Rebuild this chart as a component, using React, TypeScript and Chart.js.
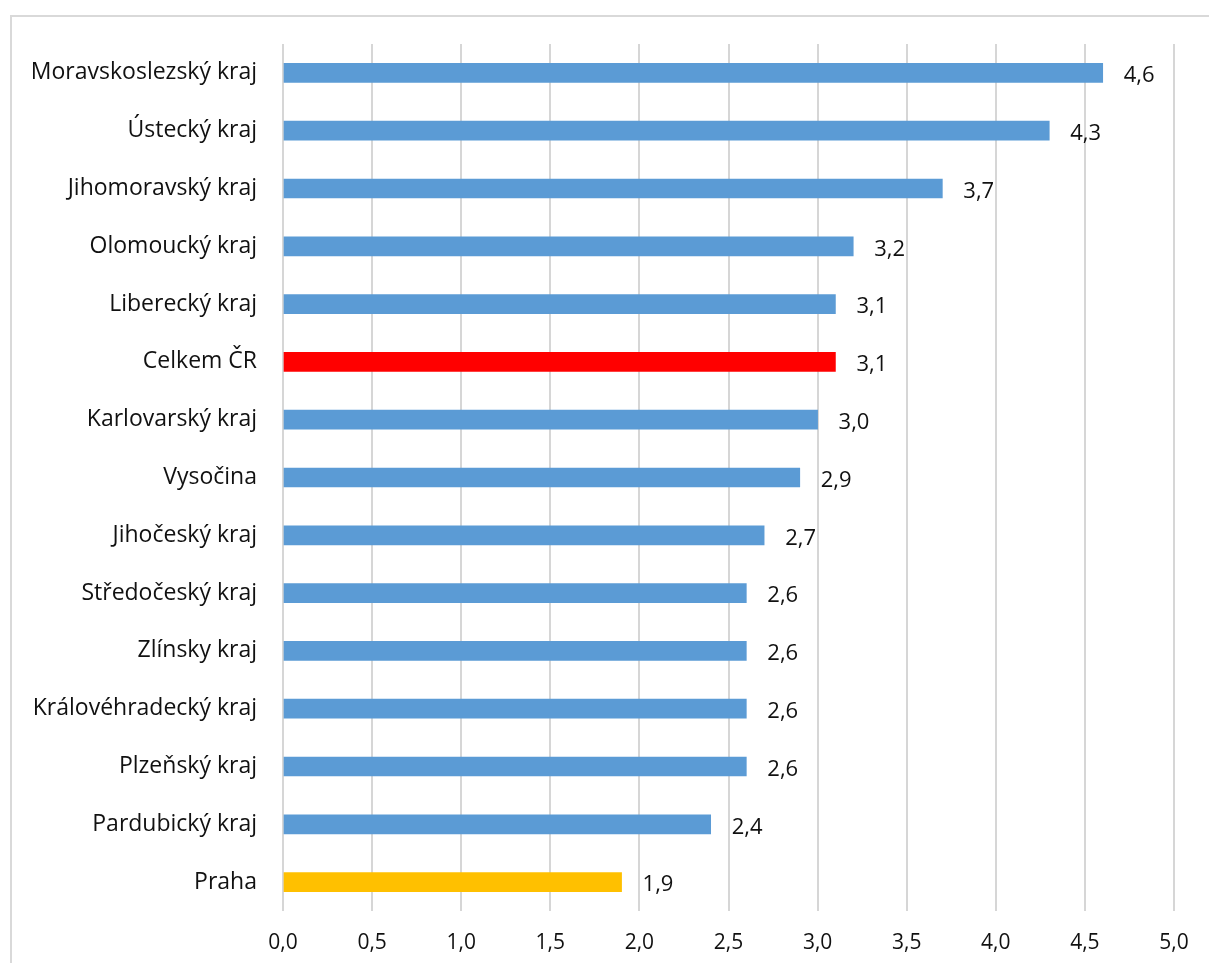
import React, { useEffect, useRef } from "react";
import { Chart, registerables } from "chart.js";

Chart.register(...registerables);

const categories = [
  "Moravskoslezský kraj",
  "Ústecký kraj",
  "Jihomoravský kraj",
  "Olomoucký kraj",
  "Liberecký kraj",
  "Celkem ČR",
  "Karlovarský kraj",
  "Vysočina",
  "Jihočeský kraj",
  "Středočeský kraj",
  "Zlínsky kraj",
  "Královéhradecký kraj",
  "Plzeňský kraj",
  "Pardubický kraj",
  "Praha",
];
const values = [4.6, 4.3, 3.7, 3.2, 3.1, 3.1, 3.0, 2.9, 2.7, 2.6, 2.6, 2.6, 2.6, 2.4, 1.9];
const barColors = [
  "#5b9bd5", "#5b9bd5", "#5b9bd5", "#5b9bd5", "#5b9bd5",
  "#ff0000",
  "#5b9bd5", "#5b9bd5", "#5b9bd5", "#5b9bd5", "#5b9bd5",
  "#5b9bd5", "#5b9bd5", "#5b9bd5",
  "#ffc000",
];
const xMin = 0;
const xMax = 5;
const xStep = 0.5;

const FONT = "'Open Sans', 'Noto Sans', sans-serif";
const fmt = (v: number) => v.toFixed(1).replace(".", ",");

const frame = {
  id: "frame",
  beforeDraw(chart: any) {
    const ctx = chart.ctx;
    ctx.save();
    ctx.fillStyle = "#ffffff";
    ctx.fillRect(0, 0, chart.width, chart.height);
    ctx.strokeStyle = "#d9d9d9";
    ctx.lineWidth = 2;
    ctx.beginPath();
    ctx.moveTo(11, chart.height + 5);
    ctx.lineTo(11, 16);
    ctx.lineTo(chart.width + 5, 16);
    ctx.stroke();
    ctx.restore();
  },
};

const valueLabels = {
  id: "valueLabels",
  afterDatasetsDraw(chart: any) {
    const ctx = chart.ctx;
    const meta = chart.getDatasetMeta(0);
    ctx.save();
    ctx.font = `22px ${FONT}`;
    ctx.fillStyle = "#111111";
    ctx.textAlign = "left";
    ctx.textBaseline = "middle";
    meta.data.forEach((bar: any, i: number) => {
      ctx.fillText(fmt(values[i]), bar.x + 21, bar.y + 3);
    });
    ctx.restore();
  },
};

export default function App() {
  const ref = useRef<HTMLCanvasElement | null>(null);
  useEffect(() => {
    if (!ref.current) return;
    const chart = new Chart(ref.current, {
      type: "bar",
      data: {
        labels: categories,
        datasets: [
          {
            data: values,
            backgroundColor: barColors,
            barThickness: 19,
            borderWidth: 0,
          },
        ],
      },
      options: {
        indexAxis: "y",
        animation: false,
        responsive: false,
        maintainAspectRatio: false,
        layout: { padding: { top: 44, right: 35, bottom: 0, left: 0 } },
        plugins: {
          legend: { display: false },
          tooltip: { enabled: false },
        },
        scales: {
          x: {
            min: xMin,
            max: xMax,
            ticks: {
              stepSize: xStep,
              callback: (v: any) => fmt(Number(v)),
              font: { family: FONT, size: 21 },
              color: "#111111",
              padding: 19,
              maxRotation: 0,
            },
            grid: { color: "#d6d6d6", lineWidth: 2, drawTicks: false },
            border: { display: false },
            afterFit(scale: any) {
              scale.height = 52;
            },
          },
          y: {
            ticks: {
              font: { family: FONT, size: 23 },
              color: "#111111",
              padding: 26,
            },
            grid: { display: false, drawTicks: false },
            border: { display: false },
            afterFit(scale: any) {
              scale.width = 283;
            },
          },
        },
      },
      plugins: [frame, valueLabels],
    });
    return () => chart.destroy();
  }, []);
  return (
    <div style={{ position: "absolute", left: 0, top: 0, width: 1209, height: 963 }}>
      <canvas ref={ref} width={1209} height={963} style={{ width: 1209, height: 963 }} />
    </div>
  );
}
